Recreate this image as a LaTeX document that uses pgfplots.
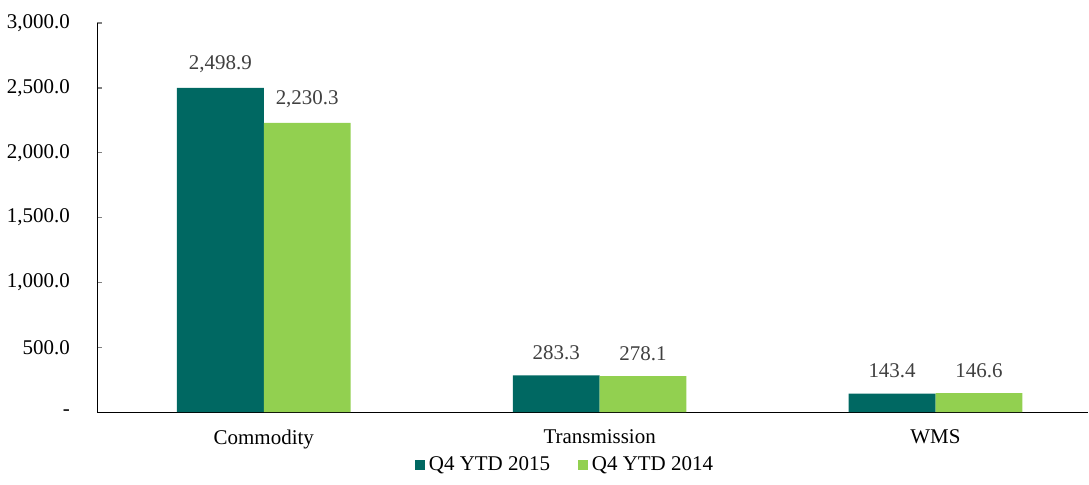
\documentclass[border=0pt]{standalone}
\usepackage{pgfplots}
\pgfplotsset{compat=1.18}
\usepackage{fontspec}
\setmainfont{Liberation Serif}
\definecolor{dteal}{RGB}{0,104,98}
\definecolor{lgreen}{RGB}{146,208,80}
\definecolor{lblgray}{RGB}{64,64,64}
\begin{document}
\fontsize{10.5}{12.6}\selectfont
\begin{tikzpicture}
\begin{axis}[
  scale only axis,
  width=496.5pt, height=195pt,
  xmin=-0.496, xmax=2.455, ymin=0, ymax=3000,
  axis lines*=left,
  axis line style={-, line width=0.7pt},
  ybar=0pt, bar width=0.2585,
  xtick=data,
  xticklabels={Commodity,Transmission,WMS},
  xtick style={draw=none},
  xticklabel style={yshift=-5pt},
  ytick={0,500,1000,1500,2000,2500,3000},
  yticklabels={-,500.0,{1,000.0},{1,500.0},{2,000.0},{2,500.0},{3,000.0}},
  ytick style={line width=0.7pt},
  tick align=inside,
  major tick length=2.5pt,
  yticklabel style={anchor=east, xshift=-10pt},
  tick label style={font=\fontsize{10.5}{12.6}\selectfont},
  nodes near coords,
  nodes near coords style={font=\fontsize{10.5}{12.6}\selectfont, text=lblgray, yshift=4pt},
  /pgf/number format/.cd, fixed, fixed zerofill, precision=1, 1000 sep={,}, assume math mode=true,
  /pgfplots/.cd,
  legend style={at={(0.473,-0.135)}, anchor=center, draw=none, legend columns=2,
    font=\fontsize{10.5}{12.6}\selectfont,
    /tikz/every even column/.append style={column sep=12pt}},
  legend cell align=left,
  legend image code/.code={\fill[#1] (0pt,-2.5pt) rectangle (5pt,2.5pt);},
]
\addplot[fill=dteal, draw=none] coordinates {(0,2498.9) (1,283.3) (2,143.4)};
\addplot[fill=lgreen, draw=none] coordinates {(0,2230.3) (1,278.1) (2,146.6)};
\legend{Q4 YTD 2015, Q4 YTD 2014}
\end{axis}
\path (current axis.south west) ++(-48pt,-36pt) rectangle ++(544.5pt,242.5pt);
\end{tikzpicture}
\end{document}
